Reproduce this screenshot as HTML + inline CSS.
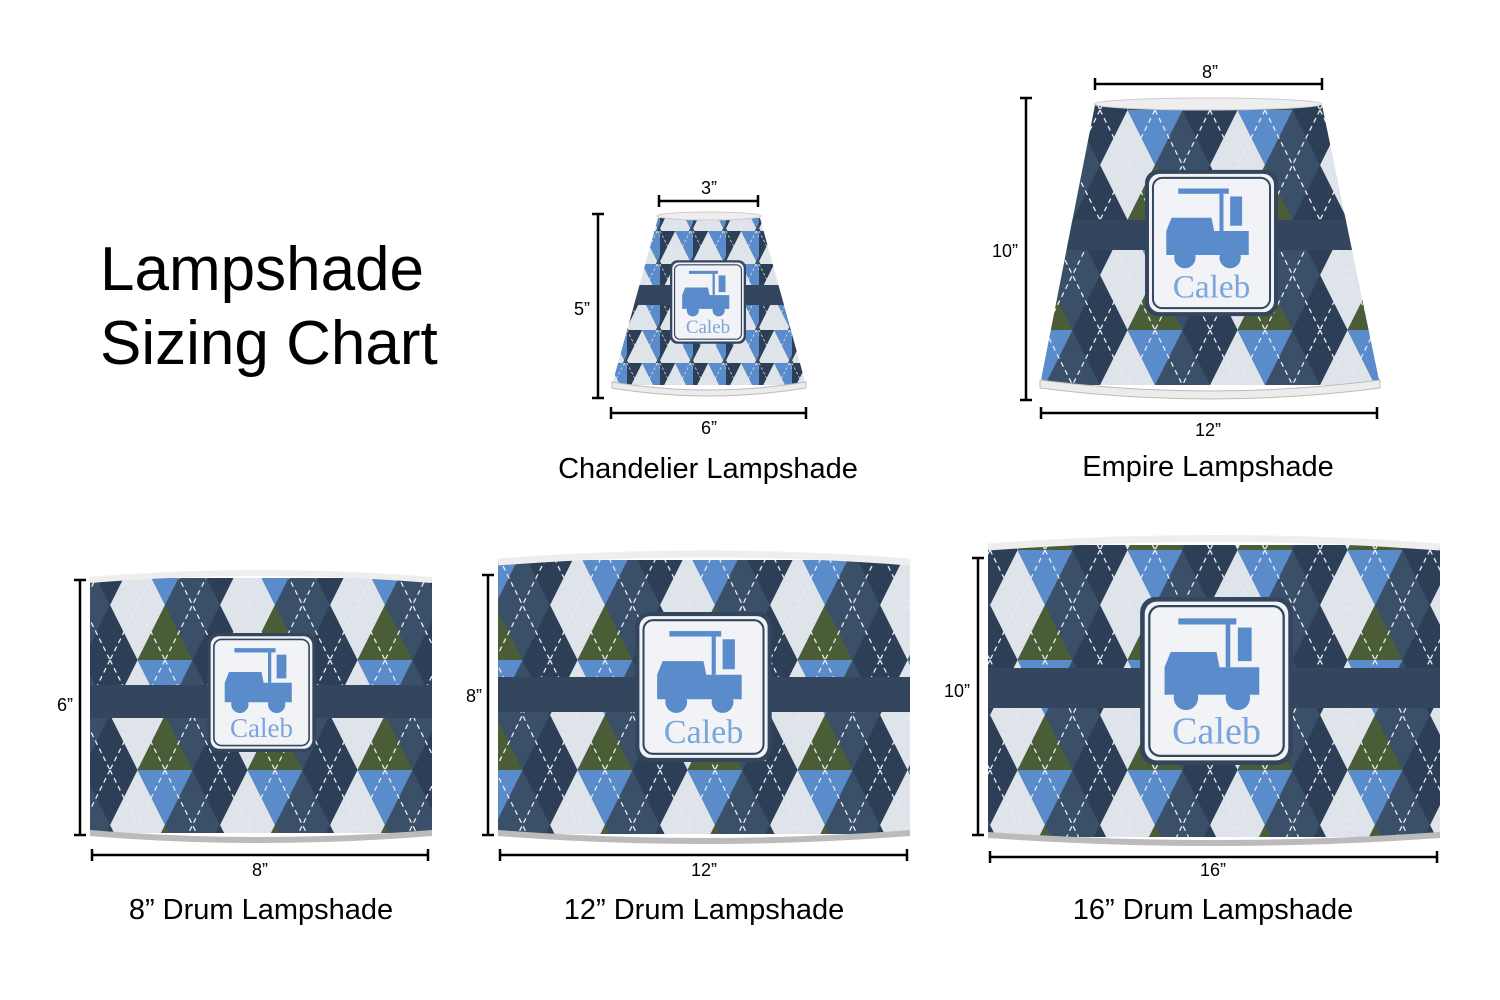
<!DOCTYPE html>
<html><head><meta charset="utf-8"><style>
html,body{margin:0;padding:0;background:#fff;}
svg{display:block;}
.t{font-family:"Liberation Sans",sans-serif;fill:#000;}
</style></head><body>
<svg width="1500" height="1000" viewBox="0 0 1500 1000" xmlns="http://www.w3.org/2000/svg">
<defs>
<pattern id="arg" width="110" height="110" patternUnits="userSpaceOnUse">
<rect width="110" height="110" fill="#34475f"/>
<polygon points="27.5,0 55,55 27.5,110 0,55" fill="#dfe3ea"/>
<polygon points="82.5,0 110,55 82.5,110 55,55" fill="#3a4f68"/>
<polygon points="0,-55 27.5,0 0,55 -27.5,0" fill="#2d3f56"/>
<polygon points="110,-55 137.5,0 110,55 82.5,0" fill="#2d3f56"/>
<polygon points="0,55 27.5,110 0,165 -27.5,110" fill="#2d3f56"/>
<polygon points="110,55 137.5,110 110,165 82.5,110" fill="#2d3f56"/>
<polygon points="55,-55 82.5,0 55,55 27.5,0" fill="#5a8bcb"/>
<polygon points="55,55 82.5,110 55,165 27.5,110" fill="#4b5d37"/>
<path d="M0,0 L55,110 M55,0 L110,110 M55,0 L0,110 M110,0 L55,110" stroke="#e8ecf2" stroke-width="1.3" stroke-dasharray="5,4" fill="none"/>
</pattern>
<pattern id="arg2" width="60" height="60" patternUnits="userSpaceOnUse" patternTransform="scale(0.55)"><rect width="60" height="60" fill="url(#arg)"/></pattern>
<symbol id="emb" viewBox="0 0 100 110">
<rect x="0" y="0" width="100" height="110" rx="10" fill="#33465e"/>
<rect x="3" y="3" width="94" height="104" rx="8" fill="#f2f3f6"/>
<rect x="6" y="6" width="88" height="98" rx="7" fill="none" stroke="#33465e" stroke-width="1.5"/>
<g fill="#5a8bcb">
<rect x="25" y="14" width="38" height="4"/>
<rect x="56" y="18" width="3" height="28"/>
<rect x="64" y="20" width="9" height="22"/>
<path d="M20,36 L50,36 L52,46 L78,46 L78,64 L16,64 L16,46 Z"/>
<circle cx="30" cy="66" r="8"/><circle cx="64" cy="66" r="8"/>
</g>
<text x="50" y="96" font-family="Liberation Serif,serif" font-size="25" text-anchor="middle" fill="#7aa6dc">Caleb</text>
</symbol>
<clipPath id="cChan"><polygon points="658,218 760,218 806,385 612,385"/></clipPath>
<clipPath id="cEmp"><polygon points="1095,105 1322,105 1380,385 1040,385"/></clipPath>
</defs>

<text class="t" x="100" y="290" font-size="62">Lampshade</text>
<text class="t" x="100" y="364" font-size="62">Sizing Chart</text>

<!-- Chandelier -->
<g clip-path="url(#cChan)"><rect x="600" y="210" width="220" height="190" fill="url(#arg2)"/></g>
<rect x="620" y="285" width="180" height="20" fill="#33465e" clip-path="url(#cChan)"/>
<ellipse cx="709" cy="216" rx="52" ry="4" fill="#eee" stroke="#ccc"/>
<path d="M612,382 Q709,398 806,382 L806,388 Q709,404 612,388 Z" fill="#ececec" stroke="#bbb"/>
<use href="#emb" x="670" y="252" width="76" height="100"/>
<g stroke="#000" stroke-width="2.5" fill="none">
<path d="M659,201 H758 M659,195 V207 M758,195 V207"/>
<path d="M598,214 V398 M592,214 H604 M592,398 H604"/>
<path d="M611,413 H806 M611,407 V419 M806,407 V419"/>
</g>
<text class="t" x="709" y="194" font-size="18" text-anchor="middle">3”</text>
<text class="t" x="582" y="315" font-size="18" text-anchor="middle">5”</text>
<text class="t" x="709" y="434" font-size="18" text-anchor="middle">6”</text>
<text class="t" x="708" y="478" font-size="29" text-anchor="middle">Chandelier Lampshade</text>

<!-- Empire -->
<g clip-path="url(#cEmp)"><rect x="1030" y="95" width="360" height="300" fill="url(#arg)"/></g>
<rect x="1060" y="220" width="300" height="30" fill="#33465e" clip-path="url(#cEmp)"/>
<ellipse cx="1208" cy="104" rx="114" ry="6" fill="#eee" stroke="#ccc"/>
<path d="M1040,380 Q1210,402 1380,380 L1380,388 Q1210,410 1040,388 Z" fill="#ececec" stroke="#bbb"/>
<use href="#emb" x="1145" y="158" width="133" height="170"/>
<g stroke="#000" stroke-width="2.5" fill="none">
<path d="M1095,84 H1322 M1095,78 V90 M1322,78 V90"/>
<path d="M1026,98 V400 M1020,98 H1032 M1020,400 H1032"/>
<path d="M1041,413 H1377 M1041,407 V419 M1377,407 V419"/>
</g>
<text class="t" x="1210" y="78" font-size="18" text-anchor="middle">8”</text>
<text class="t" x="1005" y="257" font-size="18" text-anchor="middle">10”</text>
<text class="t" x="1208" y="436" font-size="18" text-anchor="middle">12”</text>
<text class="t" x="1208" y="476" font-size="29" text-anchor="middle">Empire Lampshade</text>

<!-- Drum 8 -->
<rect x="90" y="578" width="342" height="255" fill="url(#arg)"/>
<rect x="90" y="685" width="342" height="33" fill="#33465e"/>
<path d="M90,580 Q261,566 432,580" stroke="#eee" stroke-width="6" fill="none"/>
<path d="M90,830 Q261,844 432,830 L432,836 Q261,850 90,836 Z" fill="#bbb"/>
<use href="#emb" x="203" y="633" width="117" height="119"/>
<g stroke="#000" stroke-width="2.5" fill="none">
<path d="M80,580 V835 M74,580 H86 M74,835 H86"/>
<path d="M92,855 H428 M92,849 V861 M428,849 V861"/>
</g>
<text class="t" x="65" y="711" font-size="18" text-anchor="middle">6”</text>
<text class="t" x="260" y="876" font-size="18" text-anchor="middle">8”</text>
<text class="t" x="261" y="919" font-size="29" text-anchor="middle">8” Drum Lampshade</text>

<!-- Drum 12 -->
<rect x="498" y="560" width="412" height="274" fill="url(#arg)"/>
<rect x="498" y="677" width="412" height="35" fill="#33465e"/>
<path d="M498,562 Q704,546 910,562" stroke="#eee" stroke-width="7" fill="none"/>
<path d="M498,830 Q704,846 910,830 L910,836 Q704,852 498,836 Z" fill="#bbb"/>
<use href="#emb" x="632" y="612" width="143" height="150"/>
<g stroke="#000" stroke-width="2.5" fill="none">
<path d="M488,575 V835 M482,575 H494 M482,835 H494"/>
<path d="M500,855 H907 M500,849 V861 M907,849 V861"/>
</g>
<text class="t" x="474" y="702" font-size="18" text-anchor="middle">8”</text>
<text class="t" x="704" y="876" font-size="18" text-anchor="middle">12”</text>
<text class="t" x="704" y="919" font-size="29" text-anchor="middle">12” Drum Lampshade</text>

<!-- Drum 16 -->
<rect x="988" y="545" width="452" height="292" fill="url(#arg)"/>
<rect x="988" y="668" width="452" height="40" fill="#33465e"/>
<path d="M988,547 Q1214,530 1440,547" stroke="#eee" stroke-width="7" fill="none"/>
<path d="M988,832 Q1214,848 1440,832 L1440,838 Q1214,854 988,838 Z" fill="#bbb"/>
<use href="#emb" x="1138" y="597" width="157" height="168"/>
<g stroke="#000" stroke-width="2.5" fill="none">
<path d="M978,558 V835 M972,558 H984 M972,835 H984"/>
<path d="M990,857 H1437 M990,851 V863 M1437,851 V863"/>
</g>
<text class="t" x="957" y="697" font-size="18" text-anchor="middle">10”</text>
<text class="t" x="1213" y="876" font-size="18" text-anchor="middle">16”</text>
<text class="t" x="1213" y="919" font-size="29" text-anchor="middle">16” Drum Lampshade</text>
</svg>
</body></html>
